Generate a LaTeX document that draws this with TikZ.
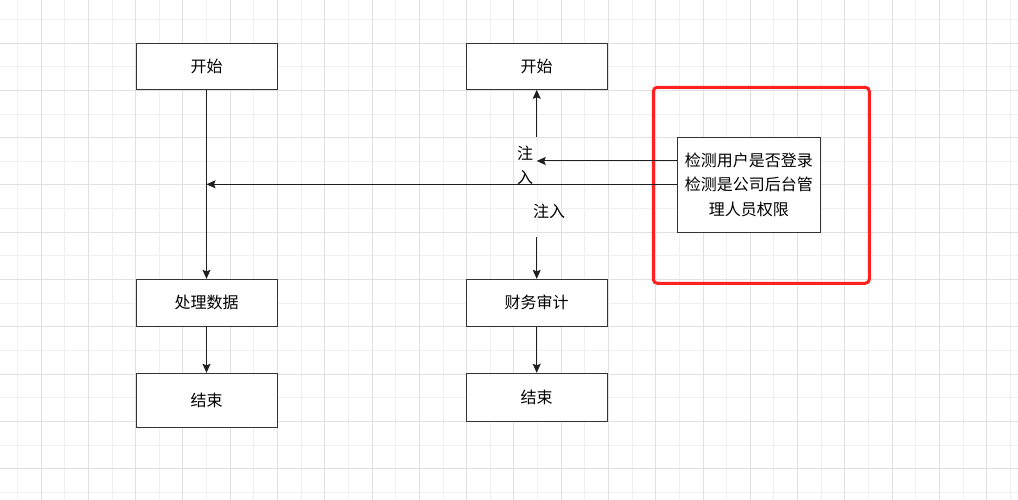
\documentclass[tikz,border=0pt]{standalone}
\usepackage{fontspec}
\setmainfont{Noto Sans CJK SC}
\usetikzlibrary{arrows.meta}
\definecolor{gridlight}{HTML}{F0F0F0}
\definecolor{griddark}{HTML}{E0E0E0}
\definecolor{boxline}{HTML}{333333}
\definecolor{redframe}{HTML}{FF2020}
\tikzset{
  flowbox/.style={draw=boxline, line width=1pt, fill=white, inner sep=0pt, minimum width=141pt, font=\fontsize{16}{20}\selectfont},
  arr/.style={draw=black!88, line width=1pt, -{Stealth[length=9pt,width=8pt,inset=1.5pt]}},
  lbl/.style={inner sep=0pt, font=\fontsize{16}{20}\selectfont}
}
\begin{document}
\begin{tikzpicture}[x=1pt,y=-1pt]
\useasboundingbox[fill=white] (0,0) rectangle (1018,500);
% grid
\foreach \k in {0,...,42} {\draw[gridlight, line width=1pt] ({17.5+23.64*\k},0) -- ({17.5+23.64*\k},500);}
\foreach \k in {0,...,20} {\draw[gridlight, line width=1pt] (0,{19.5+23.64*\k}) -- (1018,{19.5+23.64*\k});}
\foreach \k in {0,...,20} {\draw[griddark, line width=1pt] ({41.1+47.28*\k},0) -- ({41.1+47.28*\k},500);}
\foreach \k in {0,...,9} {\draw[griddark, line width=1pt] (0,{43.1+47.28*\k}) -- (1018,{43.1+47.28*\k});}

% left column
\node[flowbox, minimum height=46pt] (ls) at (206.5,66.3) {开始};
\node[flowbox, minimum height=46.7pt] (lp) at (206.5,302.7) {处理数据};
\node[flowbox, minimum height=53.7pt] (le) at (206.5,400.2) {结束};
% center column
\node[flowbox, minimum height=46pt] (cs) at (536.7,66.3) {开始};
\node[flowbox, minimum height=46.7pt] (ca) at (536.7,302.7) {财务审计};
\node[flowbox, minimum height=48pt] (ce) at (536.7,397.3) {结束};
% right box
\node[flowbox, minimum width=143pt, minimum height=95pt, align=center, font=\fontsize{16}{24.7}\selectfont] (rb) at (748.8,184.8) {检测用户是否登录\\检测是公司后台管\\理人员权限};
% red frame
\draw[redframe, line width=3pt, rounded corners=4pt] (653.3,87.3) rectangle (869.3,283.3);

% labels
\node[lbl, align=center, font=\fontsize{16}{24}\selectfont] (l1) at (525,165.5) {注\\入};
\node[lbl] (l2) at (549,211.5) {注入};
\coordinate (c1) at (536.7,137);
\coordinate (c2) at (536.7,237);
\coordinate (t1) at (536.7,161);
\coordinate (t2) at (206.5,184.3);

% connectors
\draw[arr] (ls.south) -- (lp.north);
\draw[arr] (lp.south) -- (le.north);
\draw[arr] (ca.south) -- (ce.north);
\draw[arr] (c1) -- (cs.south);
\draw[arr] (c2) -- (ca.north);
\draw[arr] (rb.west |- t1) -- (t1);
\draw[arr] (rb.west |- t2) -- (t2);
\end{tikzpicture}
\end{document}
